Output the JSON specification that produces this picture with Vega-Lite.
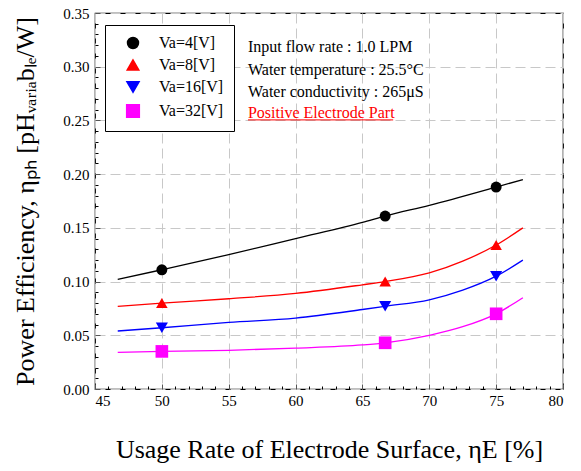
{
  "$schema": "https://vega.github.io/schema/vega-lite/v6.json",
  "width": 468,
  "height": 376,
  "autosize": {"type": "none"},
  "padding": {"left": 95, "top": 13, "right": 18, "bottom": 82},
  "background": "white",
  "config": {
    "view": {"stroke": "black", "strokeWidth": 1.2},
    "axis": {"labelFont": "Liberation Serif", "titleFont": "Liberation Serif", "labelColor": "black", "titleColor": "black", "titleFontWeight": "normal"},
    "legend": {"labelFont": "Liberation Serif"},
    "text": {"font": "Liberation Serif"}
  },
  "datasets": {
    "lines": [
      {"x": 46.7, "y": 0.102, "series": "Va=4[V]"},
      {"x": 50, "y": 0.111, "series": "Va=4[V]"},
      {"x": 55, "y": 0.125, "series": "Va=4[V]"},
      {"x": 60, "y": 0.140, "series": "Va=4[V]"},
      {"x": 65, "y": 0.155, "series": "Va=4[V]"},
      {"x": 66.7, "y": 0.161, "series": "Va=4[V]"},
      {"x": 70, "y": 0.171, "series": "Va=4[V]"},
      {"x": 75, "y": 0.188, "series": "Va=4[V]"},
      {"x": 77, "y": 0.195, "series": "Va=4[V]"},
      {"x": 46.7, "y": 0.077, "series": "Va=8[V]"},
      {"x": 50, "y": 0.080, "series": "Va=8[V]"},
      {"x": 55, "y": 0.084, "series": "Va=8[V]"},
      {"x": 60, "y": 0.089, "series": "Va=8[V]"},
      {"x": 65, "y": 0.097, "series": "Va=8[V]"},
      {"x": 66.7, "y": 0.100, "series": "Va=8[V]"},
      {"x": 70, "y": 0.108, "series": "Va=8[V]"},
      {"x": 72.5, "y": 0.119, "series": "Va=8[V]"},
      {"x": 75, "y": 0.134, "series": "Va=8[V]"},
      {"x": 77, "y": 0.150, "series": "Va=8[V]"},
      {"x": 46.7, "y": 0.054, "series": "Va=16[V]"},
      {"x": 50, "y": 0.057, "series": "Va=16[V]"},
      {"x": 55, "y": 0.062, "series": "Va=16[V]"},
      {"x": 60, "y": 0.066, "series": "Va=16[V]"},
      {"x": 65, "y": 0.074, "series": "Va=16[V]"},
      {"x": 66.7, "y": 0.077, "series": "Va=16[V]"},
      {"x": 70, "y": 0.083, "series": "Va=16[V]"},
      {"x": 72.5, "y": 0.092, "series": "Va=16[V]"},
      {"x": 75, "y": 0.105, "series": "Va=16[V]"},
      {"x": 77, "y": 0.120, "series": "Va=16[V]"},
      {"x": 46.7, "y": 0.034, "series": "Va=32[V]"},
      {"x": 50, "y": 0.035, "series": "Va=32[V]"},
      {"x": 55, "y": 0.036, "series": "Va=32[V]"},
      {"x": 60, "y": 0.038, "series": "Va=32[V]"},
      {"x": 65, "y": 0.041, "series": "Va=32[V]"},
      {"x": 66.7, "y": 0.043, "series": "Va=32[V]"},
      {"x": 70, "y": 0.050, "series": "Va=32[V]"},
      {"x": 72.5, "y": 0.058, "series": "Va=32[V]"},
      {"x": 75, "y": 0.070, "series": "Va=32[V]"},
      {"x": 77, "y": 0.085, "series": "Va=32[V]"}
    ],
    "points": [
      {"x": 50, "y": 0.111, "series": "Va=4[V]"},
      {"x": 66.7, "y": 0.161, "series": "Va=4[V]"},
      {"x": 75, "y": 0.188, "series": "Va=4[V]"},
      {"x": 50, "y": 0.080, "series": "Va=8[V]"},
      {"x": 66.7, "y": 0.100, "series": "Va=8[V]"},
      {"x": 75, "y": 0.134, "series": "Va=8[V]"},
      {"x": 50, "y": 0.057, "series": "Va=16[V]"},
      {"x": 66.7, "y": 0.077, "series": "Va=16[V]"},
      {"x": 75, "y": 0.105, "series": "Va=16[V]"},
      {"x": 50, "y": 0.035, "series": "Va=32[V]"},
      {"x": 66.7, "y": 0.043, "series": "Va=32[V]"},
      {"x": 75, "y": 0.070, "series": "Va=32[V]"}
    ]
  },
  "resolve": {"axis": {"x": "independent", "y": "independent"}},
  "layer": [
    {
      "data": {"name": "lines"},
      "mark": {"type": "line", "interpolate": "monotone", "strokeWidth": 1.3},
      "encoding": {
        "x": {"field": "x", "type": "quantitative", "scale": {"domain": [45, 80], "nice": false, "zero": false},
          "axis": {"orient": "bottom", "values": [45, 50, 55, 60, 65, 70, 75, 80], "format": "d", "labelFontSize": 15, "labelPadding": 9, "tickSize": -5, "tickColor": "#555", "domain": false,
            "grid": true, "gridColor": "#c8c8c8", "gridDash": [10, 5], "gridWidth": 1,
            "title": "Usage Rate of Electrode Surface, ηE [%]", "titleFontSize": 26, "titlePadding": 28}},
        "y": {"field": "y", "type": "quantitative", "scale": {"domain": [0, 0.35], "nice": false},
          "axis": {"orient": "left", "values": [0, 0.05, 0.1, 0.15, 0.2, 0.25, 0.3, 0.35], "format": ".2f", "labelFontSize": 15, "labelPadding": 11, "tickSize": -5, "tickColor": "#555", "domain": false,
            "grid": true, "gridColor": "#c8c8c8", "gridDash": [10, 5], "gridWidth": 1,
            "title": "Power Efficiency, ηₚₕ [pHᵥₐᵣᵢₐbₗₑ/W]", "titleFontSize": 26, "titlePadding": 24}},
        "color": {"field": "series", "type": "nominal",
          "scale": {"domain": ["Va=4[V]", "Va=8[V]", "Va=16[V]", "Va=32[V]"], "range": ["#000000", "#ff0000", "#0000ff", "#ff00ff"]},
          "legend": {"title": null, "orient": "none", "legendX": 10, "legendY": 12, "strokeColor": "black", "fillColor": "white", "padding": 10,
            "symbolSize": 144, "symbolOffset": 10, "labelOffset": 18, "labelFont": "Liberation Serif", "labelFontSize": 16, "labelColor": "black", "rowPadding": 5, "symbolStrokeWidth": 1.5,
            "encode": {"symbols": {"update": {
              "shape": {"signal": "datum.value === 'Va=4[V]' ? 'M-3,0L3,0M1,0A1,1,0,1,1,-1,0A1,1,0,1,1,1,0Z' : datum.value === 'Va=8[V]' ? 'M-3,0L3,0M0,-0.9L1,0.8L-1,0.8Z' : datum.value === 'Va=16[V]' ? 'M-3,0L3,0M0,0.9L1,-0.8L-1,-0.8Z' : 'M-3,0L3,0M-0.8,-0.8L0.8,-0.8L0.8,0.8L-0.8,0.8Z'"},
              "fill": {"signal": "scale('color', datum.value)"},
              "stroke": {"signal": "scale('color', datum.value)"},
              "strokeWidth": {"value": 1.5},
              "opacity": {"value": 1}
            }}}}}
      }
    },
    {
      "data": {"name": "points"},
      "mark": {"type": "point", "filled": true, "opacity": 1},
      "encoding": {
        "x": {"field": "x", "type": "quantitative",
          "axis": {"orient": "bottom", "values": [46, 47, 48, 49, 51, 52, 53, 54, 56, 57, 58, 59, 61, 62, 63, 64, 66, 67, 68, 69, 71, 72, 73, 74, 76, 77, 78, 79], "labels": false, "grid": false, "domain": false, "tickSize": -3, "tickColor": "black", "title": null}},
        "y": {"field": "y", "type": "quantitative",
          "axis": {"orient": "left", "values": [0.01, 0.02, 0.03, 0.04, 0.06, 0.07, 0.08, 0.09, 0.11, 0.12, 0.13, 0.14, 0.16, 0.17, 0.18, 0.19, 0.21, 0.22, 0.23, 0.24, 0.26, 0.27, 0.28, 0.29, 0.31, 0.32, 0.33, 0.34], "labels": false, "grid": false, "domain": false, "tickSize": -3, "tickColor": "black", "title": null}},
        "color": {"field": "series", "type": "nominal", "legend": null},
        "shape": {"field": "series", "type": "nominal",
          "scale": {"domain": ["Va=4[V]", "Va=8[V]", "Va=16[V]", "Va=32[V]"], "range": ["circle", "triangle-up", "triangle-down", "square"]},
          "legend": null},
        "size": {"field": "series", "type": "nominal",
          "scale": {"domain": ["Va=4[V]", "Va=8[V]", "Va=16[V]", "Va=32[V]"], "range": [120, 160, 160, 100]},
          "legend": null}
      }
    },
    {
      "data": {"values": [{}]},
      "mark": {"type": "text", "align": "left", "baseline": "middle", "fontSize": 16, "color": "black", "font": "Liberation Serif"},
      "encoding": {"x": {"datum": 56.44, "type": "quantitative", "axis": null}, "y": {"datum": 0.3185, "type": "quantitative", "axis": null}, "text": {"value": "Input flow rate : 1.0 LPM"}}
    },
    {
      "data": {"values": [{}]},
      "mark": {"type": "text", "align": "left", "baseline": "middle", "fontSize": 16, "color": "black", "font": "Liberation Serif"},
      "encoding": {"x": {"datum": 56.44, "type": "quantitative", "axis": null}, "y": {"datum": 0.297, "type": "quantitative", "axis": null}, "text": {"value": "Water temperature : 25.5°C"}}
    },
    {
      "data": {"values": [{}]},
      "mark": {"type": "text", "align": "left", "baseline": "middle", "fontSize": 16, "color": "black", "font": "Liberation Serif"},
      "encoding": {"x": {"datum": 56.44, "type": "quantitative", "axis": null}, "y": {"datum": 0.2765, "type": "quantitative", "axis": null}, "text": {"value": "Water conductivity :  265μS"}}
    },
    {
      "data": {"values": [{}]},
      "mark": {"type": "text", "align": "left", "baseline": "middle", "fontSize": 16, "color": "#ff0000", "font": "Liberation Serif"},
      "encoding": {"x": {"datum": 56.44, "type": "quantitative", "axis": null}, "y": {"datum": 0.257, "type": "quantitative", "axis": null}, "text": {"value": "Positive Electrode Part"}}
    },
    {
      "data": {"values": [{}]},
      "mark": {"type": "rule", "color": "#ff0000", "strokeWidth": 1},
      "encoding": {"x": {"datum": 56.44, "type": "quantitative", "axis": null}, "x2": {"datum": 67.3}, "y": {"datum": 0.2505, "type": "quantitative", "axis": null}}
    }
  ]
}
